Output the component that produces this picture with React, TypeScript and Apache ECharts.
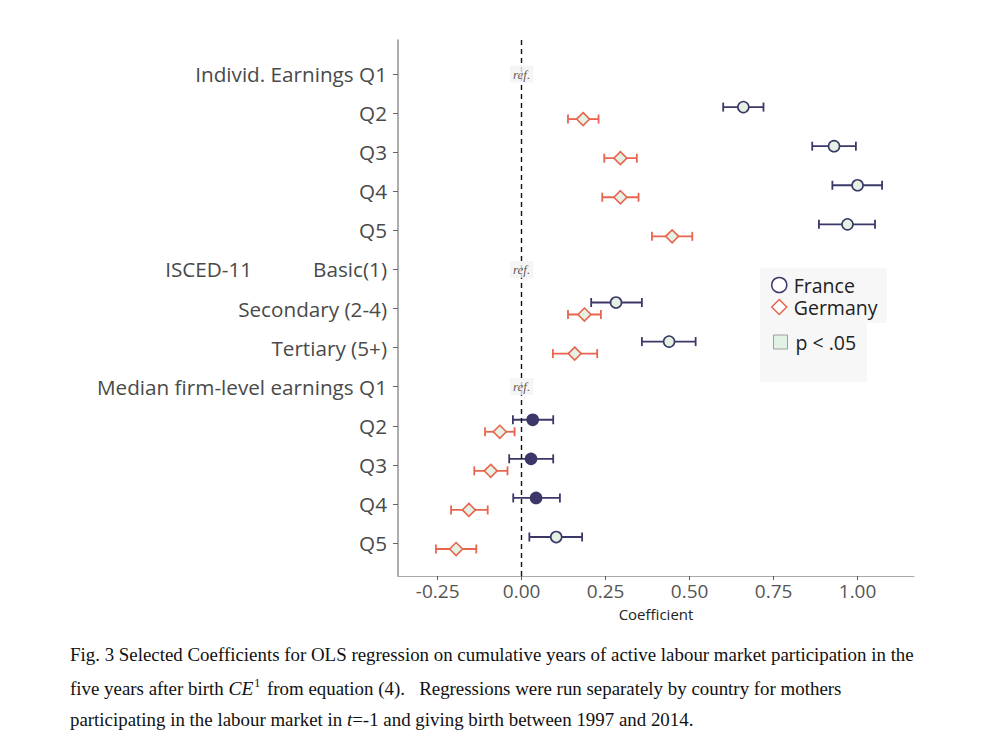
import React, { useEffect, useRef } from "react";
import * as echarts from "echarts";

const rowLabels = [
  "Individ. Earnings Q1", "Q2", "Q3", "Q4", "Q5",
  "Basic(1)", "Secondary (2-4)", "Tertiary (5+)",
  "Median firm-level earnings Q1", "Q2", "Q3", "Q4", "Q5",
];
const groupLabelRow = 5;
const groupLabel = "ISCED-11";
const refRows = [0, 5, 8];

const franceEst = [null, 0.66, 0.93, 1.0, 0.97, null, 0.281, 0.439, null, 0.033, 0.028, 0.043, 0.103];
const franceLo = [null, 0.6, 0.865, 0.925, 0.885, null, 0.207, 0.358, null, -0.026, -0.037, -0.025, 0.023];
const franceHi = [null, 0.72, 0.995, 1.073, 1.052, null, 0.358, 0.518, null, 0.094, 0.094, 0.114, 0.18];
const franceSig = [null, true, true, true, true, null, true, true, null, false, false, false, true];

const germanyEst = [null, 0.183, 0.294, 0.294, 0.448, null, 0.187, 0.158, null, -0.065, -0.092, -0.157, -0.195];
const germanyLo = [null, 0.138, 0.246, 0.24, 0.388, null, 0.138, 0.093, null, -0.109, -0.141, -0.21, -0.255];
const germanyHi = [null, 0.229, 0.343, 0.348, 0.508, null, 0.236, 0.225, null, -0.021, -0.042, -0.101, -0.135];
const germanySig = [null, true, true, true, true, null, true, true, null, true, true, true, true];

const xTicks = [-0.25, 0, 0.25, 0.5, 0.75, 1.0];

const NAVY = "#3b3869";
const ORANGE = "#e8654f";
const SIGFILL = "#e4f1e3";

function ciData(lo: (number | null)[], hi: (number | null)[]) {
  const out: number[][] = [];
  lo.forEach((l, i) => {
    if (l !== null && hi[i] !== null) out.push([l, hi[i] as number, i]);
  });
  return out;
}

function pointData(est: (number | null)[], sig: (boolean | null)[], border: string) {
  const out: any[] = [];
  est.forEach((e, i) => {
    if (e === null) return;
    out.push({
      value: [e, i],
      itemStyle: { color: sig[i] ? SIGFILL : border, borderColor: border, borderWidth: 1.6, opacity: 1 },
    });
  });
  return out;
}

function ciRender(dy: number, color: string) {
  return (params: any, api: any) => {
    const a = api.coord([api.value(0), api.value(2)]);
    const b = api.coord([api.value(1), api.value(2)]);
    const y = a[1] + dy;
    const cap = 4.5;
    const st = { stroke: color, lineWidth: 1.8 };
    return {
      type: "group",
      children: [
        { type: "line", shape: { x1: a[0], y1: y, x2: b[0], y2: y }, style: st },
        { type: "line", shape: { x1: a[0], y1: y - cap, x2: a[0], y2: y + cap }, style: st },
        { type: "line", shape: { x1: b[0], y1: y - cap, x2: b[0], y2: y + cap }, style: st },
      ],
    };
  };
}

const LABEL_COLOR = "#4a4a4a";
const FONT = "Open Sans";
const SERIF = "Liberation Serif";

export default function App() {
  const ref = useRef<HTMLDivElement>(null);
  useEffect(() => {
    if (!ref.current) return;
    const chart = echarts.init(ref.current, null, { renderer: "svg" });
    const option: any = {
      animation: false,
      backgroundColor: "#ffffff",
      grid: { left: 398, right: 86, top: 40, bottom: 179 },
      xAxis: {
        type: "value",
        min: -0.368,
        max: 1.168,
        splitLine: { show: false },
        axisLine: { show: true, onZero: false, lineStyle: { color: "#aaaaaa", width: 1 } },
        axisTick: { show: true, customValues: xTicks, length: 4, lineStyle: { color: "#555" } },
        axisLabel: {
          customValues: xTicks,
          formatter: (v: number) => v.toFixed(2),
          fontSize: 19,
          color: "#555",
          fontFamily: FONT,
          margin: 5,
        },
        name: "Coefficient",
        nameLocation: "middle",
        nameGap: 30,
        nameTextStyle: { fontSize: 15, color: "#222", fontFamily: FONT },
      },
      yAxis: {
        type: "value",
        inverse: true,
        min: -0.87,
        max: 12.844,
        splitLine: { show: false },
        axisLine: { show: true, onZero: false, lineStyle: { color: "#9a9a9a", width: 1.6 } },
        axisTick: { show: true, customValues: rowLabels.map((_, i) => i), length: 5, lineStyle: { color: "#666" } },
        axisLabel: {
          customValues: rowLabels.map((_, i) => i),
          formatter: (v: number) => {
            const i = Math.round(v);
            if (i === groupLabelRow) return "{g|" + groupLabel + "}{n|" + rowLabels[i] + "}";
            return "{n|" + rowLabels[i] + "}";
          },
          margin: 11,
          rich: {
            g: { fontSize: 20.7, color: LABEL_COLOR, fontFamily: FONT, padding: [0, 61, 0, 0] },
            n: { fontSize: 20.7, color: LABEL_COLOR, fontFamily: FONT },
          },
        },
      },
      legend: [
        {
          orient: "vertical",
          left: 766,
          top: 270,
          itemGap: 2,
          itemWidth: 15,
          itemHeight: 15,
          textStyle: { fontSize: 19.5, lineHeight: 20, color: "#222", fontFamily: FONT, padding: [0, 0, 0, 2] },
          selectedMode: false,
          data: [
            { name: "France", icon: "circle", itemStyle: { color: "#fff", borderColor: NAVY, borderWidth: 1.5 } },
            { name: "Germany", icon: "diamond", itemStyle: { color: "#fff", borderColor: ORANGE, borderWidth: 1.5 } },
          ],
        },
        {
          orient: "vertical",
          left: 768,
          top: 327,
          itemWidth: 14,
          itemHeight: 14,
          textStyle: { fontSize: 19.5, color: "#222", fontFamily: FONT, padding: [0, 0, 0, 3] },
          selectedMode: false,
          data: [
            { name: "p < .05", icon: "rect", itemStyle: { color: "#dcefe0", borderColor: "#8a8a8a", borderWidth: 1 } },
          ],
        },
      ],
      graphic: [
        { type: "rect", z: -1, shape: { x: 760, y: 268, width: 127, height: 55 }, style: { fill: "#f7f7f7" } },
        { type: "rect", z: -1, shape: { x: 760, y: 323, width: 107, height: 59 }, style: { fill: "#f7f7f7" } },
        {
          type: "text",
          x: 70,
          y: 654,
          style: {
            text: "Fig. 3 Selected Coefficients for OLS regression on cumulative years of active labour market participation in the",
            fontFamily: SERIF,
            fontSize: 18.9,
            fill: "#111",
            verticalAlign: "middle",
          },
        },
        {
          type: "text",
          x: 70,
          y: 688,
          style: {
            text: "five years after birth {it|CE}{sup|1} from equation (4).   Regressions were run separately by country for mothers",
            fontFamily: SERIF,
            fontSize: 18.9,
            fill: "#111",
            verticalAlign: "middle",
            rich: {
              it: { fontFamily: SERIF, fontStyle: "italic", fontSize: 19.5, fill: "#111" },
              sup: { fontFamily: SERIF, fontSize: 12, fill: "#111", padding: [0, 2, 10, 1] },
            },
          },
        },
        {
          type: "text",
          x: 70,
          y: 719,
          style: {
            text: "participating in the labour market in {it|t}=-1 and giving birth between 1997 and 2014.",
            fontFamily: SERIF,
            fontSize: 18.9,
            fill: "#111",
            verticalAlign: "middle",
            rich: {
              it: { fontFamily: SERIF, fontStyle: "italic", fontSize: 18.9, fill: "#111" },
            },
          },
        },
      ],
      series: [
        {
          name: "zero",
          type: "scatter",
          data: [],
          z: 1,
          markLine: {
            silent: true,
            symbol: "none",
            label: { show: false },
            lineStyle: { type: [5, 4], color: "#111", width: 1.4 },
            data: [{ xAxis: 0 }],
          },
        },
        {
          name: "France CI",
          type: "custom",
          z: 2,
          renderItem: ciRender(-6, NAVY),
          encode: { x: [0, 1], y: 2 },
          data: ciData(franceLo, franceHi),
        },
        {
          name: "Germany CI",
          type: "custom",
          z: 2,
          renderItem: ciRender(6, ORANGE),
          encode: { x: [0, 1], y: 2 },
          data: ciData(germanyLo, germanyHi),
        },
        {
          name: "France",
          type: "scatter",
          z: 3,
          symbol: "circle",
          symbolSize: 11,
          symbolOffset: [0, -6],
          itemStyle: { color: SIGFILL, borderColor: NAVY, borderWidth: 1.6, opacity: 1 },
          data: pointData(franceEst, franceSig, NAVY),
        },
        {
          name: "Germany",
          type: "scatter",
          z: 3,
          symbol: "diamond",
          symbolSize: 13,
          symbolOffset: [0, 6],
          itemStyle: { color: SIGFILL, borderColor: ORANGE, borderWidth: 1.6, opacity: 1 },
          data: pointData(germanyEst, germanySig, ORANGE),
        },
        {
          name: "p < .05",
          type: "scatter",
          data: [],
          itemStyle: { color: "#dcefe0" },
        },
        {
          name: "ref",
          type: "scatter",
          z: 5,
          symbolSize: 0,
          data: refRows.map((r) => [0, r]),
          label: {
            show: true,
            position: "inside",
            formatter: "ref.",
            fontFamily: SERIF,
            fontStyle: "italic",
            fontSize: 13,
            color: "#333",
            backgroundColor: "#f3f3f3",
            padding: [2, 3, 2, 3],
          },
        },
      ],
    };
    chart.setOption(option);
    return () => chart.dispose();
  }, []);
  return (
    <div
      ref={ref}
      style={{ position: "absolute", left: 0, top: 0, width: 1000, height: 755 }}
    />
  );
}
